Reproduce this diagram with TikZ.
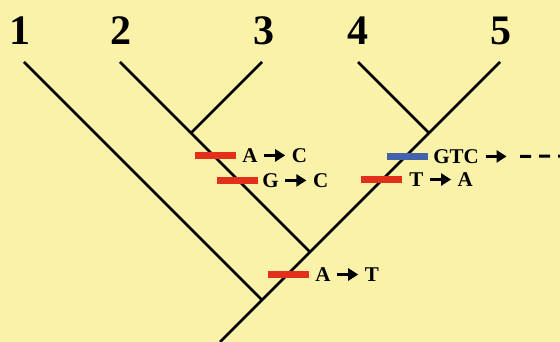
\documentclass[tikz,border=0pt]{standalone}
\usepackage{fontspec}
\setmainfont{Liberation Serif}
\usetikzlibrary{arrows.meta, positioning}
\definecolor{paper}{HTML}{FAF2A8}
\definecolor{mutred}{HTML}{E2301A}
\definecolor{mutblue}{HTML}{4462AC}
% bold arrow used inside the mutation labels
\newcommand{\mutarr}{\tikz[x=1pt,y=1pt,baseline=-0.33em]\draw[line width=2.8pt,-{Triangle[length=10pt,width=12pt]}] (0,0) -- (21,0);}

\begin{document}
\begin{tikzpicture}[
        x=1pt, y=-1pt,
        leaf/.style={inner sep=0pt, font=\fontsize{42}{42}\selectfont\bfseries},
        branch/.style={line width=2.8pt},
        bar/.style={inner sep=0pt, minimum width=41pt, minimum height=7pt, fill=#1},
        mutlabel/.style={inner sep=0pt, anchor=west, font=\fontsize{21}{21}\selectfont\bfseries}
    ]
        \fill[paper] (0,0) rectangle (560,342);
        \useasboundingbox (0,0) rectangle (560,342);

        % taxa
        \node[leaf] (n1) at (20,31) {1};
        \node[leaf] (n2) at (121,31) {2};
        \node[leaf] (n3) at (264,31) {3};
        \node[leaf] (n4) at (358,31) {4};
        \node[leaf] (n5) at (501,31) {5};

        % tips and branch points
        \coordinate (t1) at (24,62);
        \coordinate (t2) at (120,62);
        \coordinate (t3) at (262,62);
        \coordinate (t4) at (358,62);
        \coordinate (t5) at (500,62);
        \coordinate (j23) at (191,133);
        \coordinate (j45) at (429,133);
        \coordinate (j25) at (310,252);
        \coordinate (root) at (262,300);
        \coordinate (base) at (220,342);

        \draw[branch] (t1) -- (root);
        \draw[branch] (t2) -- (j23) -- (j25);
        \draw[branch] (t3) -- (j23);
        \draw[branch] (t4) -- (j45);
        \draw[branch] (t5) -- (j45) -- (j25) -- (root) -- (base);

        % mutations
        \node[bar=mutred] (m1) at (215.5,155.5) {};
        \node[mutlabel, right=6pt of m1] (l1) {A \mutarr{} C};
        \node[bar=mutred] (m2) at (237.5,180.5) {};
        \node[mutlabel, right=4pt of m2] (l2) {G \mutarr{} C};
        \node[bar=mutblue] (m3) at (407.5,156.5) {};
        \node[mutlabel, right=5pt of m3] (l3) {GTC \mutarr};
        \node[bar=mutred] (m4) at (381.5,179.5) {};
        \node[mutlabel, right=7pt of m4] (l4) {T \mutarr{} A};
        \node[bar=mutred] (m5) at (288.5,274.5) {};
        \node[mutlabel, right=6pt of m5] (l5) {A \mutarr{} T};

        \coordinate (more) at (563,156);
        \draw[line width=3pt, dash pattern=on 11pt off 8pt, shorten <=12pt] (l3.east) -- (more);
    \end{tikzpicture}
\end{document}
